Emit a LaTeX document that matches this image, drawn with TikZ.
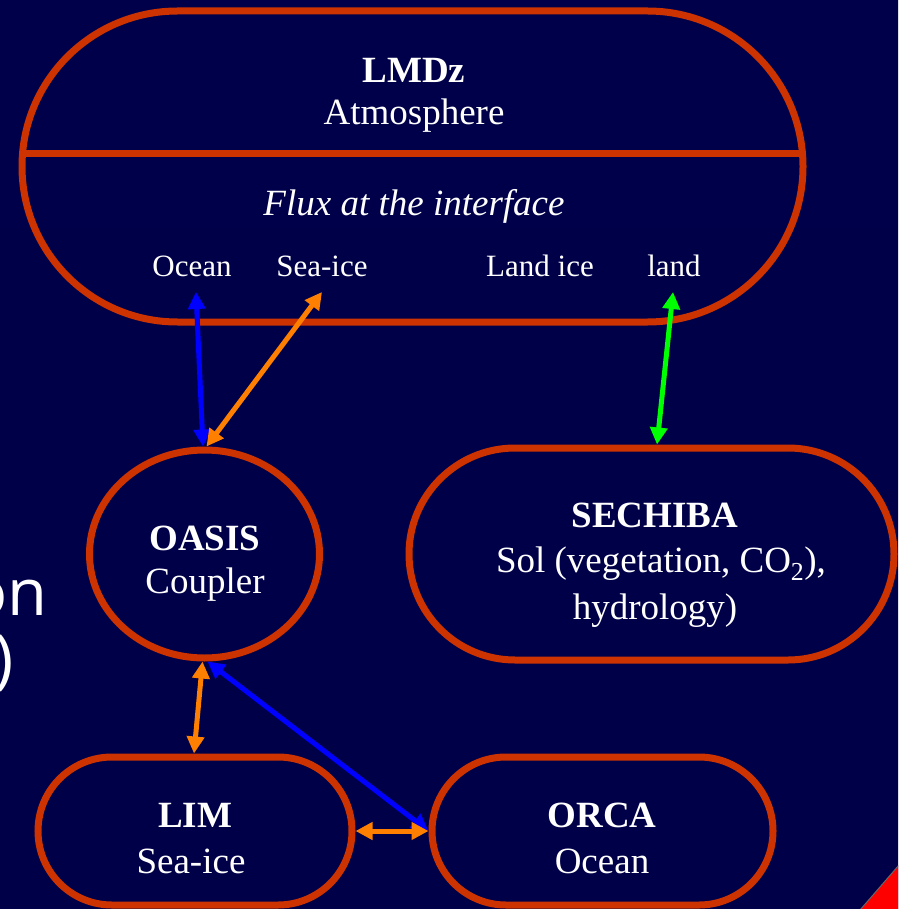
\documentclass[tikz,border=0pt]{standalone}
\usepackage{fontspec}
\setmainfont{Liberation Serif}
\newfontfamily\comicfont{Open Sans}
\usetikzlibrary{shapes.misc,shapes.geometric,arrows.meta}
\definecolor{bgtop}{HTML}{00004A}
\definecolor{bgmid}{HTML}{00005C}
\definecolor{bgbot}{HTML}{000048}
\definecolor{edgered}{HTML}{CC3300}
\definecolor{arrorange}{HTML}{FF8000}
\definecolor{arrblue}{HTML}{0000FF}
\definecolor{arrgreen}{HTML}{00FF00}
\definecolor{warnred}{HTML}{FF0000}
\begin{document}
\begin{tikzpicture}[x=1pt,y=-1pt,
  box/.style={draw=edgered, line width=7pt, inner sep=0pt},
  pill/.style={box, rounded rectangle},
  oval/.style={box, ellipse},
  bigtxt/.style={text=white, font=\fontsize{37}{44}\selectfont, inner sep=0pt, anchor=base},
  boldtxt/.style={bigtxt, font=\fontsize{37}{44}\selectfont\bfseries},
  ittxt/.style={bigtxt, font=\fontsize{37}{44}\selectfont\itshape},
  smalltxt/.style={text=white, font=\fontsize{31}{37}\selectfont, inner sep=0pt, anchor=base},
  fragtxt/.style={text=white, font=\comicfont\fontsize{65}{70}\selectfont, inner sep=0pt, anchor=base east},
  link/.style={line width=5pt, {Triangle[length=17pt,width=17pt]}-{Triangle[length=17pt,width=17pt]}},
]
\useasboundingbox (0,0) rectangle (898,909);
\clip (0,0) rectangle (898,909);
\shade[top color=bgtop, middle color=bgmid, bottom color=bgbot] (0,0) rectangle (898,909);

% left fragments of text
\node[fragtxt] (frag1) at (48,615) {on};
\node[fragtxt] (frag2) at (14,681) {)};

% LMDz
\node[pill, minimum width=781pt, minimum height=311pt] (lmdz) at (412.5,166.5) {};
\draw[edgered, line width=7pt] ([xshift=3.5pt,yshift=12.5pt]lmdz.west) -- ([xshift=-3.5pt,yshift=12.5pt]lmdz.east);
\node[boldtxt] (lmdzname) at (414,83) {LMDz};
\node[bigtxt] (atmo) at (414,125) {Atmosphere};
\node[ittxt] (flux) at (414,215) {Flux at the interface};
\node[smalltxt] (ocean) at (192,276) {Ocean};
\node[smalltxt] (seaice) at (322,276) {Sea-ice};
\node[smalltxt] (landice) at (540,276) {Land ice};
\node[smalltxt] (land) at (674,276) {land};

% OASIS
\node[oval, minimum width=230pt, minimum height=208pt] (oasis) at (204.5,554) {};
\node[boldtxt] (oasisname) at (205,550) {OASIS};
\node[bigtxt] (oasissub) at (205,593) {Coupler};

% SECHIBA
\node[pill, minimum width=485pt, minimum height=212pt] (sechiba) at (651.5,554) {};
\node[boldtxt] (sechibaname) at (655,527) {SECHIBA};
\node[bigtxt] (sechibasub) at (661,572) {Sol (vegetation, CO\textsubscript{2}),};
\node[bigtxt] (sechibasub2) at (655,619) {hydrology)};

% LIM
\node[pill, minimum width=314pt, minimum height=148pt] (lim) at (195,831) {};
\node[boldtxt] (limname) at (195,827) {LIM};
\node[bigtxt] (limsub) at (191,873) {Sea-ice};

% ORCA
\node[pill, minimum width=341pt, minimum height=148pt] (orca) at (602.5,831) {};
\node[boldtxt] (orcaname) at (602,827) {ORCA};
\node[bigtxt] (orcasub) at (602,873) {Ocean};

% connectors
\draw[link, arrblue] ([xshift=-1.5pt]oasis.north) -- ([xshift=4pt,yshift=-16pt]ocean.base);
\draw[link, arrorange] ([xshift=2pt]oasis.north) -- ([yshift=-16pt]seaice.base);
\draw[link, arrgreen] ([xshift=5.5pt]sechiba.north) -- ([xshift=-1pt,yshift=-16pt]land.base);
\draw[link, arrblue] ([xshift=3pt]oasis.south) -- (orca.west);
\draw[link, arrorange] ([xshift=-2pt]oasis.south) -- ([xshift=-1pt]lim.north);
\draw[link, arrorange] (lim.east) -- (orca.west);

% red corner
\fill[warnred, draw=black!60, line width=1pt] (899,865) -- (860,910) -- (899,910) -- cycle;
\end{tikzpicture}
\end{document}
